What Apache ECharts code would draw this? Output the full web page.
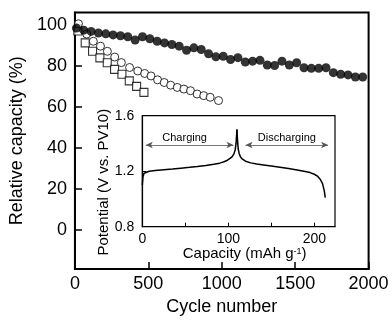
<!DOCTYPE html>
<html>
<head>
<meta charset="utf-8">
<script src="https://cdn.jsdelivr.net/npm/echarts@6/dist/echarts.min.js"></script>
<style>html,body{margin:0;padding:0;background:#fff}#c{width:392px;height:321px}</style>
</head>
<body>
<div id="c"></div>
<script>
// Main plot: relative capacity vs cycle number
const cycleFilled = [10,60,110,160,210,260,310,360,410,460,510,560,610,660,710,760,810,860,910,960,1010,1060,1110,1160,1210,1260,1310,1360,1410,1460,1510,1560,1610,1660,1710,1760,1810,1860,1910,1960];
const capFilled = [98.4,97.4,96.8,96.0,95.6,95.1,94.7,94.2,92.6,94.2,93.2,92.0,91.2,90.4,89.6,87.6,88.8,88.0,85.9,84.4,84.7,83.1,84.0,81.9,82.3,82.7,80.4,80.2,82.3,80.4,81.5,79.1,78.8,78.8,79.1,76.7,75.9,75.6,74.6,74.6];

const cycleOpen = [24,80,125,174,221,271,316,372,428,475,518,563,608,652,697,742,787,832,877,921,978];
const capOpen = [100.5,95.5,92.0,89.6,87.1,84.3,81.6,79.2,77.5,76.3,75.1,73.2,71.9,70.6,69.5,68.7,67.9,66.3,65.5,64.7,63.1];

const cycleSquare = [20,70,120,170,220,270,320,370,420,470];
const capSquare = [97.0,91.2,87.1,83.9,81.5,78.3,75.9,72.7,70.0,67.1];

const mainXTicks = [0,500,1000,1500,2000];
const mainYTicks = [0,20,40,60,80,100];

// Inset: potential vs capacity
const chargeCap = [0,0.8,2,4,8,15,25,35,45,55,64,74,83,90,95,99,102,104.5,106.5,108,109,110];
const chargeV   = [1.10,1.16,1.185,1.195,1.200,1.205,1.211,1.216,1.222,1.228,1.234,1.241,1.250,1.258,1.268,1.279,1.292,1.305,1.325,1.355,1.40,1.50];
const dischargeCap = [110,110.7,111.5,112.5,114,116,120,126,133,141,150,160,170,180,188,195,200,204,207,209.5,211.5,212.7];
const dischargeV   = [1.50,1.42,1.36,1.33,1.305,1.288,1.272,1.260,1.252,1.245,1.237,1.228,1.219,1.209,1.200,1.190,1.178,1.162,1.140,1.110,1.060,1.010];

const insetXLabels = [0,100,200];
const insetXTicks = [0,50,100,150,200];
const insetYTicks = [0.8,1.2,1.6];

const zip = (a,b) => a.map((v,i)=>[v,b[i]]);
const FONT = 'Liberation Sans, Arial, Helvetica, sans-serif';

const chart = echarts.init(document.getElementById('c'), null, {renderer:'canvas'});
chart.setOption({
  animation:false,
  backgroundColor:'#fff',
  textStyle:{fontFamily:FONT,color:'#000'},
  grid:[
    {left:71.4, top:12.5, right:23.4, bottom:49, show:true, borderColor:'#000', borderWidth:2, backgroundColor:'transparent'},
    {left:142.3, top:115.7, right:57, bottom:94.3, show:true, borderColor:'#000', borderWidth:1.2, backgroundColor:'#fff'}
  ],
  xAxis:[
    {type:'value', gridIndex:0, min:0, max:2000, interval:500,
     axisLine:{show:true, onZero:false, lineStyle:{color:'#000', width:2}},
     axisTick:{show:true, inside:true, length:7, lineStyle:{color:'#000', width:1.5}, customValues:mainXTicks},
     axisLabel:{fontSize:18, color:'#000', margin:6, fontFamily:FONT, customValues:mainXTicks, formatter:v=>String(v)},
     splitLine:{show:false},
     name:'Cycle number', nameLocation:'middle', nameGap:27,
     nameTextStyle:{fontSize:18, color:'#000', fontFamily:FONT}},
    {type:'value', gridIndex:1, min:0, max:224,
     axisLine:{show:true, onZero:false, lineStyle:{color:'#000', width:1.2}},
     axisTick:{show:true, inside:true, length:4, lineStyle:{color:'#000', width:1}, customValues:insetXTicks},
     axisLabel:{fontSize:14, color:'#000', margin:5, fontFamily:FONT, customValues:insetXLabels, formatter:v=>String(v)},
     splitLine:{show:false},
     name:'Capacity (mAh g{sup|-1})', nameLocation:'middle', nameGap:18,
     nameTextStyle:{fontSize:15, color:'#000', fontFamily:FONT, padding:[0,0,0,12],
       rich:{sup:{fontSize:9, verticalAlign:'top', padding:[0,0,6,0], fontFamily:FONT, color:'#000'}}}}
  ],
  yAxis:[
    {type:'value', gridIndex:0, min:-19, max:106,
     axisLine:{show:true, onZero:false, lineStyle:{color:'#000', width:2}},
     axisTick:{show:true, inside:true, length:7, lineStyle:{color:'#000', width:1.5}, customValues:mainYTicks},
     axisLabel:{fontSize:18, color:'#000', margin:8, fontFamily:FONT, customValues:mainYTicks, formatter:v=>String(v)},
     splitLine:{show:false},
     name:'Relative capacity (%)', nameLocation:'middle', nameGap:41,
     nameTextStyle:{fontSize:18, color:'#000', fontFamily:FONT}},
    {type:'value', gridIndex:1, min:0.8, max:1.6, interval:0.4,
     axisLine:{show:true, onZero:false, lineStyle:{color:'#000', width:1.2}},
     axisTick:{show:true, inside:true, length:4, lineStyle:{color:'#000', width:1}, customValues:insetYTicks},
     axisLabel:{fontSize:14, color:'#000', margin:8, fontFamily:FONT, customValues:insetYTicks, formatter:v=>v.toFixed(1)},
     splitLine:{show:false},
     name:'Potential (V vs. PV10)', nameLocation:'middle', nameGap:29,
     nameTextStyle:{fontSize:15, color:'#000', fontFamily:FONT, padding:[0,22,0,0]}}
  ],
  series:[
    {type:'scatter', xAxisIndex:0, yAxisIndex:0, data:zip(cycleSquare,capSquare), symbol:'rect', symbolSize:8,
     itemStyle:{color:'#fff', borderColor:'#000', borderWidth:1.1}, z:2},
    {type:'scatter', xAxisIndex:0, yAxisIndex:0, data:zip(cycleOpen,capOpen), symbol:'circle', symbolSize:8,
     itemStyle:{color:'#fff', borderColor:'#000', borderWidth:1}, z:3},
    {type:'scatter', xAxisIndex:0, yAxisIndex:0, data:zip(cycleFilled,capFilled), symbol:'circle', symbolSize:9,
     itemStyle:{color:'#000'}, z:4},
    {type:'line', xAxisIndex:1, yAxisIndex:1, data:zip(chargeCap,chargeV), showSymbol:false, symbol:'none',
     lineStyle:{color:'#000', width:1.5}, z:5,
     markLine:{silent:true, symbol:['arrow','arrow'], symbolSize:[5,7], animation:false,
       lineStyle:{color:'#555', width:0.8, type:'solid'},
       label:{show:true, position:'insideMiddleTop', distance:2, formatter:'{b}', fontSize:11, color:'#000', fontFamily:FONT},
       emphasis:{disabled:true},
       data:[
         [{name:'Charging', coord:[4,1.389], label:{padding:[0,10,0,0]}}, {coord:[106,1.389]}],
         [{name:'Discharging', coord:[120,1.389]}, {coord:[216,1.389]}]
       ]}},
    {type:'line', xAxisIndex:1, yAxisIndex:1, data:zip(dischargeCap,dischargeV), showSymbol:false, symbol:'none',
     lineStyle:{color:'#000', width:1.5}, z:5}
  ]
});
</script>
</body>
</html>
